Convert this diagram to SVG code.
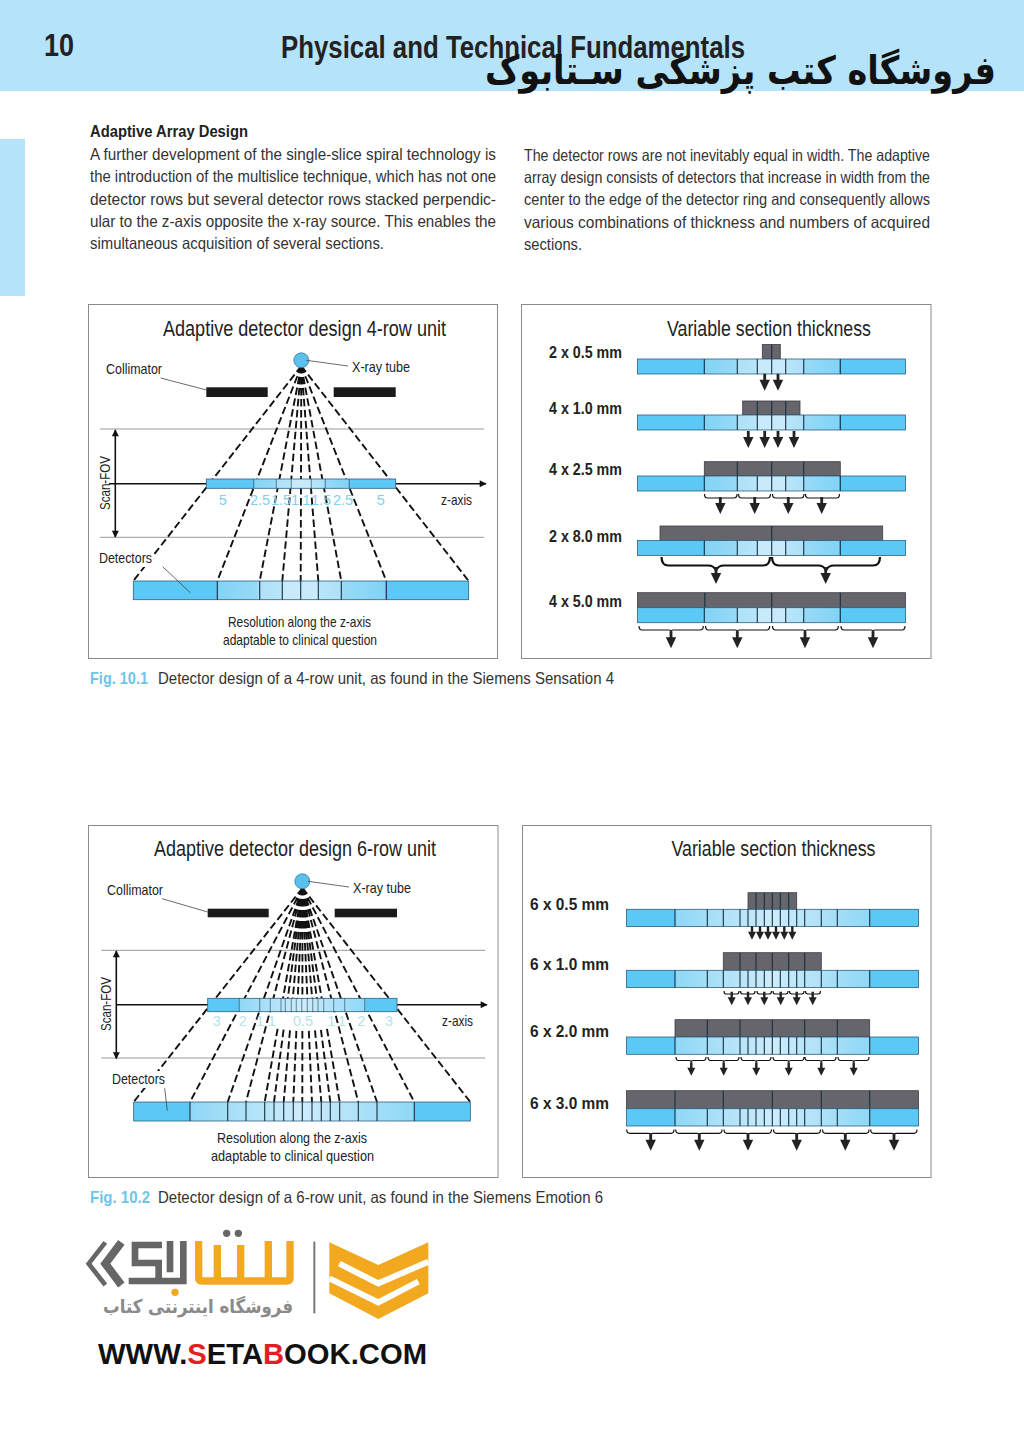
<svg xmlns="http://www.w3.org/2000/svg" width="1024" height="1448" viewBox="0 0 1024 1448">
<style>
text{font-family:"Liberation Sans","DejaVu Sans",sans-serif;fill:#222}
.body{font-size:16.5px;fill:#333}
.h{font-size:16.5px;font-weight:bold}
.cap{font-size:16.5px;fill:#333}
.fig{font-size:16.5px;font-weight:bold;fill:#6fc5e8}
.title{font-size:22px}
.lab{font-size:14.5px}
.num{font-size:14.5px;fill:#7fd2ef;text-anchor:middle}
.num2{font-size:14.5px;fill:#b5e3ef;text-anchor:middle}
.mm{font-size:17px;font-weight:bold}
.frame{fill:#fff;stroke:#8a8a8a;stroke-width:1}
.gray{stroke:#999;stroke-width:1;fill:none}
.dash{stroke:#111;stroke-width:1.9;stroke-dasharray:7.5 3.5;fill:none}
.axis{stroke:#111;stroke-width:1.6;fill:none}
.lead{stroke:#444;stroke-width:.8;fill:none}
.div{stroke:#16303f;stroke-width:1.1;fill:none}
.dark{fill:#65656b;stroke:#3c3c44;stroke-width:.8}
.brace{stroke:#111;stroke-width:1.2;fill:none}
.bar{stroke:#2d5f80;stroke-width:.8}
</style>
<defs>
<linearGradient id="g1" x1="0" x2="1" y1="0" y2="0">
<stop offset="0" stop-color="#5cc8f6"/><stop offset=".25" stop-color="#5cc8f6"/><stop offset=".252" stop-color="#82d3f6"/><stop offset=".37" stop-color="#98daf7"/><stop offset=".372" stop-color="#aee1f8"/><stop offset=".445" stop-color="#b8e5f9"/><stop offset=".447" stop-color="#c8eafa"/><stop offset=".553" stop-color="#c8eafa"/><stop offset=".555" stop-color="#b8e5f9"/><stop offset=".62" stop-color="#aee1f8"/><stop offset=".622" stop-color="#98daf7"/><stop offset=".75" stop-color="#82d3f6"/><stop offset=".752" stop-color="#5cc8f6"/><stop offset="1" stop-color="#5cc8f6"/>
</linearGradient>
<linearGradient id="g2" x1="0" x2="1" y1="0" y2="0">
<stop offset="0" stop-color="#5cc8f6"/><stop offset=".166" stop-color="#5cc8f6"/><stop offset=".168" stop-color="#8ed8f7"/><stop offset=".33" stop-color="#aee1f8"/><stop offset=".5" stop-color="#cdecfb"/><stop offset=".67" stop-color="#aee1f8"/><stop offset=".832" stop-color="#8ed8f7"/><stop offset=".834" stop-color="#5cc8f6"/><stop offset="1" stop-color="#5cc8f6"/>
</linearGradient>
<marker id="tip" viewBox="0 0 10 10" refX="9" refY="5" markerWidth="9" markerHeight="7" markerUnits="userSpaceOnUse" orient="auto-start-reverse"><path d="M0 0L10 5L0 10Z" fill="#111"/></marker>
<path id="ah" d="M-1.4-17H1.4V-11H5.2L0 0L-5.2-11H-1.4Z" fill="#222"/>
<path id="as" d="M-1.2-13.5H1.2V-8H4L0 0L-4-8H-1.2Z" fill="#222"/>
<g id="bar1"><rect class="bar" x="637.5" y="0" width="268" height="15" fill="url(#g1)"/><path class="div" d="M704.3 0V15M737.3 0V15M757.3 0V15M771.7 0V15M785.7 0V15M803.7 0V15M840.3 0V15"/></g>
<g id="bar2"><rect class="bar" x="626.5" y="0" width="292" height="17.3" fill="url(#g2)"/><path class="div" d="M675 0V17.3M707.3 0V17.3M723.3 0V17.3M740 0V17.3M748 0V17.3M756 0V17.3M764.3 0V17.3M772.3 0V17.3M780.3 0V17.3M788.7 0V17.3M796.7 0V17.3M804.7 0V17.3M821.3 0V17.3M837.3 0V17.3M869.7 0V17.3"/></g>
</defs>
<rect width="1024" height="1448" fill="#fff"/>

<g id="header">
<rect x="0" y="0" width="1024" height="91" fill="#b5e3fa"/>
<rect x="0" y="139" width="25" height="157" fill="#b5e3fa"/>
<text x="44" y="56" font-size="32" font-weight="bold" textLength="30" lengthAdjust="spacingAndGlyphs">10</text>
<text x="281" y="58" font-size="31" font-weight="bold" textLength="464" lengthAdjust="spacingAndGlyphs">Physical and Technical Fundamentals</text>
<text x="996" y="84" direction="rtl" font-size="39" font-weight="bold" textLength="511" lengthAdjust="spacingAndGlyphs" style="font-family:'DejaVu Sans',sans-serif;fill:#111">فروشگاه کتب پزشکی سـتابوک</text>
</g>

<g id="body-text">
<text class="h" x="90" y="137" textLength="158" lengthAdjust="spacingAndGlyphs">Adaptive Array Design</text>
<text class="body" x="90" y="160" textLength="406" lengthAdjust="spacingAndGlyphs">A further development of the single-slice spiral technology is</text>
<text class="body" x="90" y="182" textLength="406" lengthAdjust="spacingAndGlyphs">the introduction of the multislice technique, which has not one</text>
<text class="body" x="90" y="205" textLength="406" lengthAdjust="spacingAndGlyphs">detector rows but several detector rows stacked perpendic-</text>
<text class="body" x="90" y="227" textLength="406" lengthAdjust="spacingAndGlyphs">ular to the z-axis opposite the x-ray source. This enables the</text>
<text class="body" x="90" y="249" textLength="294" lengthAdjust="spacingAndGlyphs">simultaneous acquisition of several sections.</text>
<text class="body" x="524" y="161" textLength="406" lengthAdjust="spacingAndGlyphs">The detector rows are not inevitably equal in width. The adaptive</text>
<text class="body" x="524" y="183" textLength="406" lengthAdjust="spacingAndGlyphs">array design consists of detectors that increase in width from the</text>
<text class="body" x="524" y="205" textLength="406" lengthAdjust="spacingAndGlyphs">center to the edge of the detector ring and consequently allows</text>
<text class="body" x="524" y="228" textLength="406" lengthAdjust="spacingAndGlyphs">various combinations of thickness and numbers of acquired</text>
<text class="body" x="524" y="250" textLength="58" lengthAdjust="spacingAndGlyphs">sections.</text>
</g>

<g id="panel-4row">
<rect class="frame" x="88.5" y="304.5" width="409" height="354"/>
<text class="title" x="163" y="336" textLength="283" lengthAdjust="spacingAndGlyphs">Adaptive detector design 4-row unit</text>
<path class="gray" d="M100 429H484M100 537.3H484"/>
<path class="axis" marker-start="url(#tip)" marker-end="url(#tip)" d="M115.3 430V537"/>
<path class="axis" marker-end="url(#tip)" d="M109 483.7H486"/>
<path class="dash" d="M301.3 366L133.3 581M301.3 366L217.3 581M301.3 366L259.7 581M301.3 366L282.3 581M301.3 366L300.7 581M301.3 366L318.3 581M301.3 366L341.3 581M301.3 366L386.3 581M301.3 366L468.7 581"/>
<rect x="98" y="550" width="56" height="17" fill="#fff"/>
<rect x="206.3" y="387.3" width="61.4" height="9.7" fill="#1a1a1a"/>
<rect x="333.7" y="387.3" width="62" height="9.7" fill="#1a1a1a"/>
<circle cx="301.3" cy="360.3" r="7.5" fill="#5cc0ec" stroke="#2a6f95" stroke-width=".7"/>
<rect class="bar" x="206.3" y="479" width="189.4" height="9.3" fill="url(#g1)"/>
<path class="div" stroke-opacity=".5" d="M253.7 479V488M276.3 479V488M291.3 479V488M311.3 479V488M325.3 479V488M349.3 479V488"/>
<rect class="bar" x="133.3" y="581" width="335.4" height="18.7" fill="url(#g1)"/>
<path class="div" d="M217.3 581V599.7M259.7 581V599.7M282.3 581V599.7M300.7 581V599.7M318.3 581V599.7M341.3 581V599.7M386.3 581V599.7"/>
<path class="lead" d="M160.7 378L206.5 390M306.3 360.3L348 366M162.7 566.7L190.3 592.7"/>
<text class="num" x="222.7" y="505">5</text><text class="num" x="260" y="505">2.5</text><text class="num" x="281" y="505">1.5</text><text class="num" x="295" y="505">1</text><text class="num" x="306.6" y="505">1</text><text class="num" x="321" y="505">1.5</text><text class="num" x="343" y="505">2.5</text><text class="num" x="380.7" y="505">5</text>
<text class="lab" x="106" y="374" textLength="56" lengthAdjust="spacingAndGlyphs">Collimator</text>
<text class="lab" x="352" y="372" textLength="58" lengthAdjust="spacingAndGlyphs">X-ray tube</text>
<text class="lab" transform="translate(110 510) rotate(-90)" x="0" y="0" textLength="54" lengthAdjust="spacingAndGlyphs">Scan-FOV</text>
<text class="lab" x="441" y="505" textLength="31" lengthAdjust="spacingAndGlyphs">z-axis</text>
<text class="lab" x="99" y="563" textLength="53" lengthAdjust="spacingAndGlyphs">Detectors</text>
<text class="lab" x="228" y="627" textLength="143" lengthAdjust="spacingAndGlyphs">Resolution along the z-axis</text>
<text class="lab" x="223" y="645" textLength="154" lengthAdjust="spacingAndGlyphs">adaptable to clinical question</text>
</g>

<g id="panel-4row-thickness">
<rect class="frame" x="521.5" y="304.5" width="409.5" height="354"/>
<text class="title" x="667" y="336" textLength="204" lengthAdjust="spacingAndGlyphs">Variable section thickness</text>
<text class="mm" x="549" y="358" textLength="73" lengthAdjust="spacingAndGlyphs">2 x 0.5 mm</text>
<text class="mm" x="549" y="414" textLength="73" lengthAdjust="spacingAndGlyphs">4 x 1.0 mm</text>
<text class="mm" x="549" y="474.5" textLength="73" lengthAdjust="spacingAndGlyphs">4 x 2.5 mm</text>
<text class="mm" x="549" y="541.5" textLength="73" lengthAdjust="spacingAndGlyphs">2 x 8.0 mm</text>
<text class="mm" x="549" y="607" textLength="73" lengthAdjust="spacingAndGlyphs">4 x 5.0 mm</text>
<rect class="dark" x="762.3" y="344.5" width="18" height="14.5"/><path class="div" d="M771.7 344.5V359"/>
<rect class="dark" x="742.7" y="401" width="57.3" height="14"/><path class="div" d="M757.3 401V415M771.7 401V415M785.7 401V415"/>
<rect class="dark" x="704.3" y="461.7" width="136" height="14.3"/><path class="div" d="M737.3 461.7V476M771.7 461.7V476M803.7 461.7V476"/>
<rect class="dark" x="660" y="526" width="222.7" height="14.5"/><path class="div" d="M771.7 526V540.5"/>
<rect class="dark" x="637.5" y="592.7" width="268" height="15"/><path class="div" d="M704.8 592.7V607.7M771.7 592.7V607.7M840.3 592.7V607.7"/>
<use href="#bar1" y="359"/><use href="#bar1" y="415"/><use href="#bar1" y="476"/><use href="#bar1" y="540.5"/><use href="#bar1" y="607.7"/>
<use href="#ah" x="764.7" y="390.7"/><use href="#ah" x="778" y="390.7"/>
<use href="#ah" x="748.3" y="448"/><use href="#ah" x="764.7" y="448"/><use href="#ah" x="778" y="448"/><use href="#ah" x="794" y="448"/>
<path class="brace" d="M704.5 494q0 4 3 4H718.3q2 0 2 2q0-2 2-2H734q3 0 3-4M738.5 494q0 4 3 4H752.7q2 0 2 2q0-2 2-2H767.5q3 0 3-4M772.5 494q0 4 3 4H786.3q2 0 2 2q0-2 2-2H801q3 0 3-4M805.5 494q0 4 3 4H819.7q2 0 2 2q0-2 2-2H836.5q3 0 3-4"/>
<use href="#ah" x="720.3" y="514"/><use href="#ah" x="754.7" y="514"/><use href="#ah" x="788.3" y="514"/><use href="#ah" x="821.7" y="514"/>
<path class="brace" style="stroke-width:2.2" d="M661.5 557q0 8.5 7 8.5H708q6 0 8 5q2-5 8-5H763q7 0 7-8.5M772 557q0 8.5 7 8.5H818q6 0 8 5q2-5 8-5H873q7 0 7-8.5"/>
<use href="#ah" x="716" y="584"/><use href="#ah" x="825.7" y="584"/>
<path class="brace" d="M639 626q0 4 3 4H669q2 0 2 2q0-2 2-2H700.3q3 0 3-4M705.5 626q0 4 3 4H735.3q2 0 2 2q0-2 2-2H766.7q3 0 3-4M772.5 626q0 4 3 4H803q2 0 2 2q0-2 2-2H835.3q3 0 3-4M841 626q0 4 3 4H871q2 0 2 2q0-2 2-2H902q3 0 3-4"/>
<use href="#ah" x="671" y="648.3"/><use href="#ah" x="737.3" y="648.3"/><use href="#ah" x="805" y="648.3"/><use href="#ah" x="873" y="648.3"/>
</g>

<g id="caption-1">
<text class="fig" x="90" y="684" textLength="58" lengthAdjust="spacingAndGlyphs">Fig. 10.1</text>
<text class="cap" x="158" y="684" textLength="456" lengthAdjust="spacingAndGlyphs">Detector design of a 4-row unit, as found in the Siemens Sensation 4</text>
</g>

<g id="panel-6row">
<rect class="frame" x="88.5" y="825.5" width="409.5" height="352"/>
<text class="title" x="154" y="856" textLength="282" lengthAdjust="spacingAndGlyphs">Adaptive detector design 6-row unit</text>
<path class="gray" d="M101.3 950.3H485.3M101.3 1058H485.3"/>
<path class="axis" marker-start="url(#tip)" marker-end="url(#tip)" d="M116.3 951V1058.5"/>
<path class="axis" marker-end="url(#tip)" d="M116.3 1004.7H487"/>
<path class="dash" d="M302.5 888L133.7 1102M302.5 888L190 1102M302.5 888L227.7 1102M302.5 888L246 1102M302.5 888L264.7 1102M302.5 888L274 1102M302.5 888L283.7 1102M302.5 888L293.3 1102M302.5 888L302.3 1102M302.5 888L312 1102M302.5 888L321.3 1102M302.5 888L330.3 1102M302.5 888L339.7 1102M302.5 888L358.3 1102M302.5 888L377 1102M302.5 888L414.3 1102M302.5 888L470.3 1102"/>
<rect x="274" y="1012" width="54" height="16" fill="#fff"/>
<rect x="111" y="1071" width="56" height="17" fill="#fff"/>
<rect x="207.7" y="908.7" width="61" height="8.6" fill="#1a1a1a"/>
<rect x="334.7" y="908.7" width="62.3" height="8.6" fill="#1a1a1a"/>
<circle cx="302.3" cy="881.3" r="7.5" fill="#5cc0ec" stroke="#2a6f95" stroke-width=".7"/>
<rect class="bar" x="207.7" y="998.3" width="189.3" height="13.4" fill="url(#g2)"/>
<path class="div" stroke-opacity=".5" d="M239.3 998.3V1011.7M259.7 998.3V1011.7M270.3 998.3V1011.7M281 998.3V1011.7M285.3 998.3V1011.7M291.3 998.3V1011.7M296.3 998.3V1011.7M301.7 998.3V1011.7M307.3 998.3V1011.7M312.7 998.3V1011.7M318 998.3V1011.7M323.7 998.3V1011.7M333.7 998.3V1011.7M344.7 998.3V1011.7M364.7 998.3V1011.7"/>
<rect class="bar" x="133.7" y="1102" width="336.6" height="19" fill="url(#g2)"/>
<path class="div" d="M190 1102V1121M227.7 1102V1121M246 1102V1121M264.7 1102V1121M274 1102V1121M283.7 1102V1121M293.3 1102V1121M302.3 1102V1121M312 1102V1121M321.3 1102V1121M330.3 1102V1121M339.7 1102V1121M358.3 1102V1121M377 1102V1121M414.3 1102V1121"/>
<path class="lead" d="M162 898.7L207.7 912M308 881.3L349 887M164.7 1088.3L167.3 1110.7"/>
<text class="num2" x="216.7" y="1026">3</text><text class="num2" x="242.7" y="1026">2</text><text class="num2" x="260" y="1026">1</text><text class="num2" x="271.7" y="1026">1</text><text class="num2" x="303" y="1026">0.5</text><text class="num2" x="331.3" y="1026">1</text><text class="num2" x="342" y="1026">1</text><text class="num2" x="361.3" y="1026">2</text><text class="num2" x="389" y="1026">3</text>
<text class="lab" x="107" y="895" textLength="56" lengthAdjust="spacingAndGlyphs">Collimator</text>
<text class="lab" x="353" y="893" textLength="58" lengthAdjust="spacingAndGlyphs">X-ray tube</text>
<text class="lab" transform="translate(111 1031) rotate(-90)" x="0" y="0" textLength="54" lengthAdjust="spacingAndGlyphs">Scan-FOV</text>
<text class="lab" x="442" y="1026" textLength="31" lengthAdjust="spacingAndGlyphs">z-axis</text>
<text class="lab" x="112" y="1084" textLength="53" lengthAdjust="spacingAndGlyphs">Detectors</text>
<text class="lab" x="217" y="1143" textLength="150" lengthAdjust="spacingAndGlyphs">Resolution along the z-axis</text>
<text class="lab" x="211" y="1161" textLength="163" lengthAdjust="spacingAndGlyphs">adaptable to clinical question</text>
</g>

<g id="panel-6row-thickness">
<rect class="frame" x="522.5" y="825.5" width="408.5" height="352"/>
<text class="title" x="671.5" y="856" textLength="204" lengthAdjust="spacingAndGlyphs">Variable section thickness</text>
<text class="mm" x="530" y="910" textLength="79" lengthAdjust="spacingAndGlyphs">6 x 0.5 mm</text>
<text class="mm" x="530" y="970" textLength="79" lengthAdjust="spacingAndGlyphs">6 x 1.0 mm</text>
<text class="mm" x="530" y="1037" textLength="79" lengthAdjust="spacingAndGlyphs">6 x 2.0 mm</text>
<text class="mm" x="530" y="1109" textLength="79" lengthAdjust="spacingAndGlyphs">6 x 3.0 mm</text>
<rect class="dark" x="748" y="892.7" width="48.7" height="16.6"/><path class="div" d="M756 892.7V909.3M764.3 892.7V909.3M772.3 892.7V909.3M780.3 892.7V909.3M788.7 892.7V909.3"/>
<rect class="dark" x="723.3" y="952.7" width="98" height="17.6"/><path class="div" d="M740 952.7V970.3M756 952.7V970.3M772.3 952.7V970.3M788.7 952.7V970.3M804.7 952.7V970.3"/>
<rect class="dark" x="675" y="1019.7" width="194.7" height="17.3"/><path class="div" d="M707.3 1019.7V1037M740 1019.7V1037M772.3 1019.7V1037M804.7 1019.7V1037M837.3 1019.7V1037"/>
<rect class="dark" x="626.5" y="1090.7" width="292" height="18"/><path class="div" d="M675 1090.7V1108.7M723.3 1090.7V1108.7M772.3 1090.7V1108.7M821.3 1090.7V1108.7M869.7 1090.7V1108.7"/>
<use href="#bar2" y="909.3"/><use href="#bar2" y="970.3"/><use href="#bar2" y="1037"/><use href="#bar2" y="1108.7"/>
<use href="#as" x="752" y="939.7"/><use href="#as" x="760" y="939.7"/><use href="#as" x="768" y="939.7"/><use href="#as" x="776" y="939.7"/><use href="#as" x="784.3" y="939.7"/><use href="#as" x="792.3" y="939.7"/>
<path class="brace" d="M724 991q0 3 2 3H730q1.7 0 1.7 1.5q0-1.5 1.7-1.5H737q2 0 2-3M740.5 991q0 3 2 3H746.3q1.7 0 1.7 1.5q0-1.5 1.7-1.5H753q2 0 2-3M757 991q0 3 2 3H762.6q1.7 0 1.7 1.5q0-1.5 1.7-1.5H769.5q2 0 2-3M773 991q0 3 2 3H779q1.7 0 1.7 1.5q0-1.5 1.7-1.5H786q2 0 2-3M789.5 991q0 3 2 3H795q1.7 0 1.7 1.5q0-1.5 1.7-1.5H802q2 0 2-3M805.5 991q0 3 2 3H811q1.7 0 1.7 1.5q0-1.5 1.7-1.5H818.5q2 0 2-3"/>
<use href="#as" x="731.7" y="1005.3"/><use href="#as" x="748" y="1005.3"/><use href="#as" x="764.3" y="1005.3"/><use href="#as" x="780.7" y="1005.3"/><use href="#as" x="796.7" y="1005.3"/><use href="#as" x="812.7" y="1005.3"/>
<path class="brace" d="M676 1057q0 3.5 2.5 3.5H689.3q2 0 2 1.5q0-1.5 2-1.5H703.5q2.5 0 2.5-3.5M708 1057q0 3.5 2.5 3.5H721.7q2 0 2 1.5q0-1.5 2-1.5H736.5q2.5 0 2.5-3.5M741 1057q0 3.5 2.5 3.5H754.3q2 0 2 1.5q0-1.5 2-1.5H768.5q2.5 0 2.5-3.5M773 1057q0 3.5 2.5 3.5H786.7q2 0 2 1.5q0-1.5 2-1.5H801.5q2.5 0 2.5-3.5M805 1057q0 3.5 2.5 3.5H819.3q2 0 2 1.5q0-1.5 2-1.5H833.5q2.5 0 2.5-3.5M838 1057q0 3.5 2.5 3.5H851.7q2 0 2 1.5q0-1.5 2-1.5H866.5q2.5 0 2.5-3.5"/>
<use href="#as" x="691.3" y="1075.7"/><use href="#as" x="723.7" y="1075.7"/><use href="#as" x="756.3" y="1075.7"/><use href="#as" x="788.7" y="1075.7"/><use href="#as" x="821.3" y="1075.7"/><use href="#as" x="853.7" y="1075.7"/>
<path class="brace" d="M626.7 1129.5q0 3.8 3 3.8H648.7q2 0 2 2q0-2 2-2H671q3 0 3-3.8M675.7 1129.5q0 3.8 3 3.8H697.3q2 0 2 2q0-2 2-2H719q3 0 3-3.8M724 1129.5q0 3.8 3 3.8H746q2 0 2 2q0-2 2-2H768.5q3 0 3-3.8M773.5 1129.5q0 3.8 3 3.8H794.7q2 0 2 2q0-2 2-2H817.5q3 0 3-3.8M822.5 1129.5q0 3.8 3 3.8H843.3q2 0 2 2q0-2 2-2H866q3 0 3-3.8M870.7 1129.5q0 3.8 3 3.8H892q2 0 2 2q0-2 2-2H914q3 0 3-3.8"/>
<use href="#ah" x="650.7" y="1150.7"/><use href="#ah" x="699.3" y="1150.7"/><use href="#ah" x="748" y="1150.7"/><use href="#ah" x="796.7" y="1150.7"/><use href="#ah" x="845.3" y="1150.7"/><use href="#ah" x="894" y="1150.7"/>
</g>

<g id="caption-2">
<text class="fig" x="90" y="1203" textLength="60" lengthAdjust="spacingAndGlyphs">Fig. 10.2</text>
<text class="cap" x="158" y="1203" textLength="445" lengthAdjust="spacingAndGlyphs">Detector design of a 6-row unit, as found in the Siemens Emotion 6</text>
</g>

<g id="logo">
<g transform="translate(70 1215) scale(.33333)">
<path d="M106 82L56 146L106 210" fill="none" stroke="#666" stroke-width="14"/>
<path d="M154 82L106 146L154 210" fill="none" stroke="#666" stroke-width="24"/>
<path d="M276 90H195V144H266V198H176M266 198H340V78M300 78V172" fill="none" stroke="#666" stroke-width="20"/>
<path d="M386 78V189Q386 198 396 198H650Q660 198 660 189V78M442 90V190M512 90V190M595 78V190" fill="none" stroke="#f2a91f" stroke-width="22"/>
<circle cx="470" cy="55" r="11" fill="#666"/><circle cx="505" cy="55" r="11" fill="#666"/><circle cx="315" cy="232" r="11" fill="#f2a91f"/>
<path d="M733 80V295" stroke="#777" stroke-width="6" fill="none"/>
<path d="M778 82L925 150L1075 82V235L925 312L778 235Z" fill="#f2a91f"/>
<path d="M808 146L925 205L1075 140M778 190L925 262L1045 200" fill="none" stroke="#fff" stroke-width="18"/>
</g>
<text x="293" y="1313" direction="rtl" font-size="19" font-weight="bold" textLength="190" lengthAdjust="spacingAndGlyphs" style="font-family:'DejaVu Sans',sans-serif;fill:#8a8a8a">فروشگاه اینترنتی کتاب</text>
<text x="98" y="1364" font-size="29" font-weight="bold" textLength="329" lengthAdjust="spacingAndGlyphs" style="fill:#111">WWW.<tspan style="fill:#e31e24">S</tspan>ETA<tspan style="fill:#e31e24">B</tspan>OOK.COM</text>
</g>
</svg>
